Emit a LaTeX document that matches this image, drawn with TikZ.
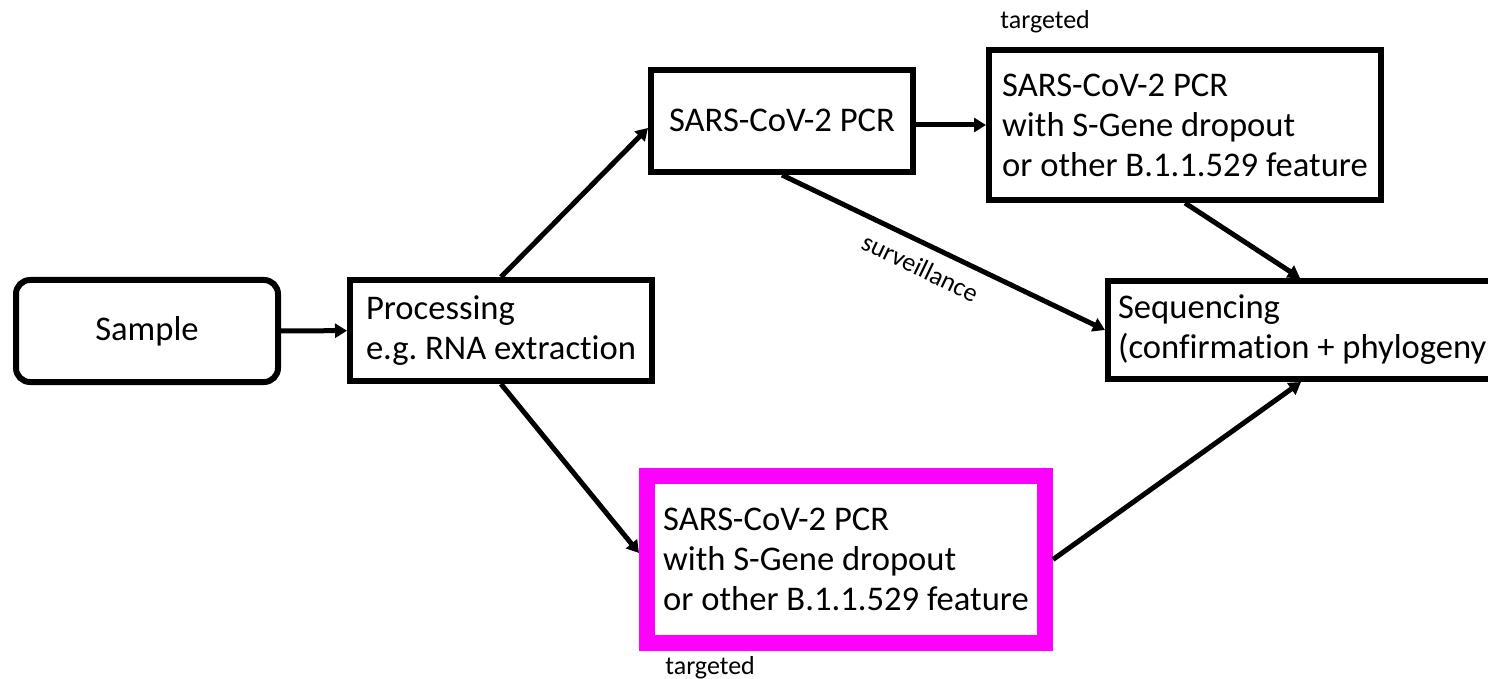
\documentclass[tikz,border=0pt]{standalone}
\usepackage{fontspec}
\setmainfont{Carlito}[Ligatures=NoCommon]
\usetikzlibrary{arrows.meta}
\begin{document}
\frenchspacing
\begin{tikzpicture}[x=0.5pt,y=-0.5pt,
  box/.style={draw, line width=3pt, rectangle, align=left, inner sep=0pt,
              font=\fontsize{17.3}{20}\selectfont},
  arr/.style={line width=2.5pt, -{Triangle[length=6pt,width=7pt]}},
  lbl/.style={font=\fontsize{13}{15}\selectfont, inner sep=0pt}]
\useasboundingbox (0,0) rectangle (1488,679);
\clip (0,0) rectangle (1488,679);
\fill[white] (0,0) rectangle (1488,679);

\node (sample) [box, rounded corners=7pt, align=center, minimum width=131pt, minimum height=51pt] at (147,331) {Sample};
\node (proc) [box, minimum width=151pt, minimum height=50.5pt] at (501,330.5) {Processing\\e.g. RNA extraction};
\node (pcr) [box, align=center, text height=1.05em, text depth=0pt, minimum width=131pt, minimum height=51pt] at (782,121) {SARS-CoV-2 PCR};
\node (tr) [box, minimum width=196pt, minimum height=75pt] at (1185,125) {SARS-CoV-2 PCR\\with S-Gene dropout\\or other B.1.1.529 feature};
\node (seq) [box, minimum width=199.5pt, minimum height=49pt] at (1307.5,330) {Sequencing\\(confirmation + phylogeny)};
\node (mag) [box, draw={rgb,255:red,255;green,0;blue,255}, line width=8pt, minimum width=199pt, minimum height=83.5pt] at (846,559.5) {SARS-CoV-2 PCR\\with S-Gene dropout\\or other B.1.1.529 feature};

\node (tgt1) [lbl, anchor=west] at (1000,22) {targeted};
\node (tgt2) [lbl, anchor=west] at (665,668) {targeted};

\draw[arr] (sample) -- (proc);
\draw[arr] (proc.north) -- ([yshift=-3.5pt]pcr.west);
\draw[arr] (pcr.east |- tr.west) -- (tr.west);
\draw[arr] (pcr.south) -- (seq.west)
  node (surv) [lbl, pos=0.46, sloped, below=6pt] {surveillance};
\draw[arr] (tr.south) -- ([xshift=-3.75pt]seq.north);
\draw[arr] (proc.south) -- ([yshift=3.25pt]mag.west);
\draw[arr] (mag.east) -- ([xshift=-3.25pt]seq.south);
\end{tikzpicture}
\end{document}
